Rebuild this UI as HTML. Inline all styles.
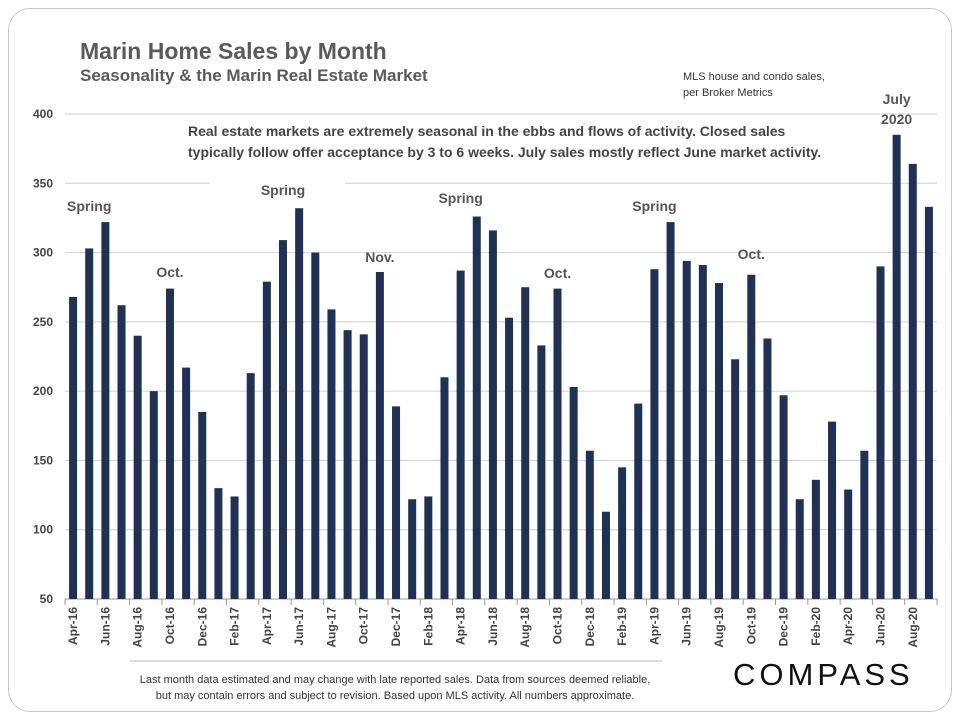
<!DOCTYPE html>
<html><head><meta charset="utf-8"><style>
body{margin:0;background:#fff;width:960px;height:720px;overflow:hidden;font-family:"Liberation Sans",sans-serif}
#frame{position:absolute;left:8px;top:8px;width:942px;height:702px;border:1.5px solid #c8c8c8;border-radius:22px}
.t{position:absolute;color:#5a5a5a;font-weight:bold}
</style></head><body>
<div id="frame"></div>
<div class="t" style="left:80px;top:38px;font-size:23px">Marin Home Sales by Month</div>
<div class="t" style="left:80px;top:66px;font-size:17px">Seasonality &amp; the Marin Real Estate Market</div>
<div class="t" style="left:683px;top:69px;font-size:11px;font-weight:normal;color:#333;line-height:16px">MLS house and condo sales,<br>per Broker Metrics</div>
<svg id="chart" width="960" height="720" style="position:absolute;left:0;top:0"></svg>
<div class="t" style="left:100px;top:672px;width:590px;text-align:center;font-size:11px;font-weight:normal;color:#333;line-height:16px">Last month data estimated and may change with late reported sales. Data from sources deemed reliable,<br>but may contain errors and subject to revision. Based upon MLS activity. All numbers approximate.</div>
<div style="position:absolute;left:733px;top:657px;font-size:31px;letter-spacing:4px;color:#111;font-family:'Liberation Sans',sans-serif">COMPASS</div>
<script>
const months=["Apr-16","May-16","Jun-16","Jul-16","Aug-16","Sep-16","Oct-16","Nov-16","Dec-16","Jan-17","Feb-17","Mar-17","Apr-17","May-17","Jun-17","Jul-17","Aug-17","Sep-17","Oct-17","Nov-17","Dec-17","Jan-18","Feb-18","Mar-18","Apr-18","May-18","Jun-18","Jul-18","Aug-18","Sep-18","Oct-18","Nov-18","Dec-18","Jan-19","Feb-19","Mar-19","Apr-19","May-19","Jun-19","Jul-19","Aug-19","Sep-19","Oct-19","Nov-19","Dec-19","Jan-20","Feb-20","Mar-20","Apr-20","May-20","Jun-20","Jul-20","Aug-20","Sep-20"];
const sales=[268,303,322,262,240,200,274,217,185,130,124,213,279,309,332,300,259,244,241,286,189,122,124,210,287,326,316,253,275,233,274,203,157,113,145,191,288,322,294,291,278,223,284,238,197,122,136,178,129,157,290,385,364,333];
const yTicks=[50,100,150,200,250,300,350,400];
const notes=[["Spring",1,211],["Oct.",6,277],["Spring",13,195],["Nov.",19,262],["Spring",24,203],["Oct.",30,278],["Spring",36,211],["Oct.",42,259]];
const svg=document.getElementById('chart');const NS="http://www.w3.org/2000/svg";
function el(t,a,p){const e=document.createElementNS(NS,t);for(const k in a)e.setAttribute(k,a[k]);(p||svg).appendChild(e);return e;}
const x0=65,x1=937,yTop=114,yBot=599;
const step=(x1-x0)/months.length;
const xs=i=>x0+step*(i+0.5);
const ys=v=>yBot-(v-50)/(400-50)*(yBot-yTop);
yTicks.forEach(v=>{
 const g=el('line',{x1:x0,x2:x1,y1:ys(v),y2:ys(v),stroke:v===50?'#999':'#d0d0d0','stroke-width':1});
 
 const t=el('text',{x:53,y:ys(v)+4,'text-anchor':'end','font-size':12,'font-weight':'bold',fill:'#444'});t.textContent=v;
 
});
const bg=el('rect',{x:185,y:120,width:625,height:44,fill:'#fff'});

const bg2=el('rect',{x:210,y:164,width:135,height:22,fill:'#fff'});

sales.forEach((v,i)=>{
 const r=el('rect',{x:xs(i)-4,y:ys(v),width:8,height:yBot-ys(v),fill:'#1f3157'});
 
});
for(let i=0;i<=months.length;i+=2){const tk=el('line',{x1:x0+step*i,x2:x0+step*i,y1:yBot,y2:yBot+6,stroke:'#999'});
 }
months.forEach((m,i)=>{if(i%2)return;
 const t=el('text',{transform:`translate(${xs(i)+4},${yBot+8}) rotate(-90)`,'text-anchor':'end','font-size':12,'font-weight':'bold',fill:'#444'});t.textContent=m;
 });
notes.forEach(n=>{const t=el('text',{x:xs(n[1]),y:n[2],'text-anchor':'middle','font-size':14,'font-weight':'bold',fill:'#555'});t.textContent=n[0];
 });
[["July",104],["2020",124]].forEach(a=>{const t=el('text',{x:xs(51),y:a[1],'text-anchor':'middle','font-size':14,'font-weight':'bold',fill:'#555'});t.textContent=a[0];
 });
[["Real estate markets are extremely seasonal in the ebbs and flows of activity. Closed sales",136],["typically follow offer acceptance by 3 to 6 weeks. July sales mostly reflect June market activity.",157]].forEach(a=>{
 const t=el('text',{x:188,y:a[1],'font-size':14,'font-weight':'bold',fill:'#444'});t.textContent=a[0];
 });
const fl=el('line',{x1:130,x2:662,y1:661,y2:661,stroke:'#bbb'});

</script>
</body></html>
